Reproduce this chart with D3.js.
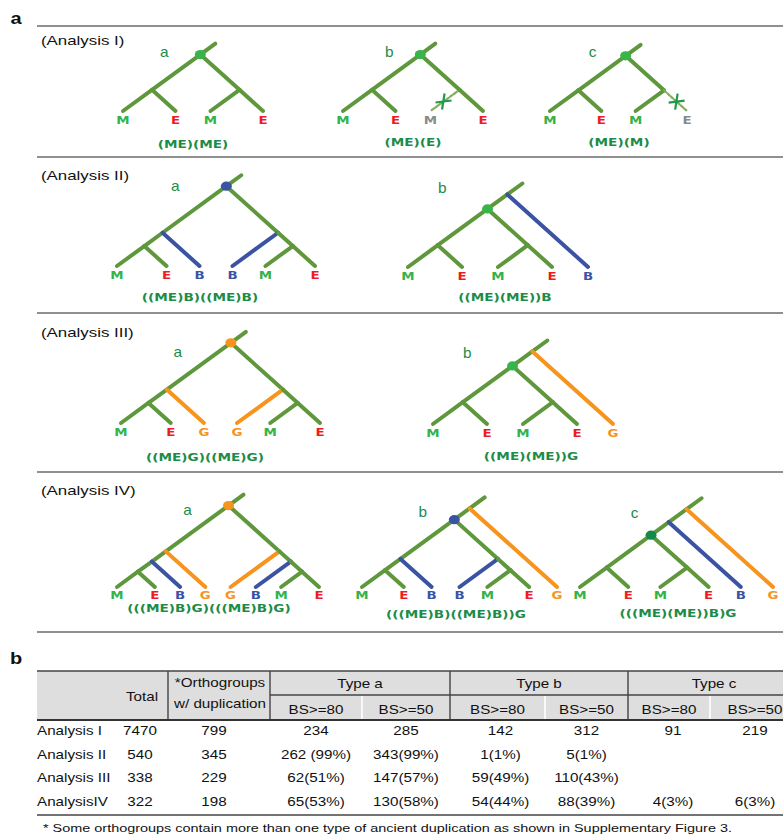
<!DOCTYPE html>
<html><head><meta charset="utf-8">
<script src="https://cdn.jsdelivr.net/npm/d3@7"></script>
<style>html,body{margin:0;padding:0;background:#fff;} svg{display:block;}</style>
</head><body>
<svg id="fig" width="783" height="834"></svg>
<script>
// ---------- data ----------
const panelTitles = ["(Analysis I)", "(Analysis II)", "(Analysis III)", "(Analysis IV)"];
const treeLetters = [["a", "b", "c"], ["a", "b"], ["a", "b"], ["a", "b", "c"]];
// gene-tree topologies: "!" = lost gene copy, "@X" = duplication node (X names the dot colour)
const topologies = [
  ["((M,E),(M,E))@M", "((M,E),(M!,E))@M", "((M,E),(M,E!))@M"],
  ["(((M,E),B),(B,(M,E)))@B", "(((M,E),(M,E))@M,B)"],
  ["(((M,E),G),(G,(M,E)))@G", "(((M,E),(M,E))@M,G)"],
  ["((((M,E),B),G),(G,(B,(M,E))))@G", "((((M,E),B),(B,(M,E)))@B,G)", "((((M,E),(M,E))@N,B),G)"]
];
const captions = [
  ["(ME)(ME)", "(ME)(E)", "(ME)(M)"],
  ["((ME)B)((ME)B)", "((ME)(ME))B"],
  ["((ME)G)((ME)G)", "((ME)(ME))G"],
  ["(((ME)B)G)(((ME)B)G)", "(((ME)B)((ME)B))G", "(((ME)(ME))B)G"]
];

// table
const rowLabels = ["Analysis I", "Analysis II", "Analysis III", "AnalysisIV"];
const totals = ["7470", "540", "338", "322"];
const orthoDup = ["799", "345", "229", "198"];
const typeA80 = ["234", "262 (99%)", "62(51%)", "65(53%)"];
const typeA50 = ["285", "343(99%)", "147(57%)", "130(58%)"];
const typeB80 = ["142", "1(1%)", "59(49%)", "54(44%)"];
const typeB50 = ["312", "5(1%)", "110(43%)", "88(39%)"];
const typeC80 = ["91", "", "", "4(3%)"];
const typeC50 = ["219", "", "", "6(3%)"];
const typeHeaders = ["Type a", "Type b", "Type c"];
const bsHeaders = ["BS>=80", "BS>=50"];
const footnote = "* Some orthogroups contain more than one type of ancient duplication as shown in Supplementary Figure 3.";

// ---------- styles ----------
const SANS = "'Liberation Sans', Arial, sans-serif";
const HAND = "'DejaVu Sans', sans-serif";
const branchGreen = "#5f983c";
const speciesColor = {M: "#33b34a", E: "#ed1c24", B: "#3b53a3", G: "#f7941d"};
const dotColor = {M: "#38b54a", B: "#3b53a3", G: "#f7941d", N: "#138a47"};
const labelGreen = "#1d8c48";
const lostGrey = "#8a8a8a";

// ---------- layout ----------
const panelLayout = [
  {titleY: 45, leafDy: 13, trees: [
    {x0: 123, x1: 263, leafY: 111, lab: [-36, -2], cap: [193, 148]},
    {x0: 343, x1: 483, leafY: 111, lab: [-31, -2], cap: [413, 146]},
    {x0: 550, x1: 687, leafY: 111, lab: [-33, -3], cap: [619, 146]}]},
  {titleY: 180, leafDy: 13, trees: [
    {x0: 117, x1: 315, leafY: 266, lab: [-51, 1], cap: [200, 301]},
    {x0: 408, x1: 588, leafY: 267, lab: [-65, -5], cap: [505, 301]}]},
  {titleY: 337, leafDy: 13, trees: [
    {x0: 121, x1: 320, leafY: 423, lab: [-53, 10], cap: [205, 461]},
    {x0: 433, x1: 613, leafY: 424, lab: [-65, 3], cap: [531, 460]}]},
  {titleY: 495, leafDy: 11.5, trees: [
    {x0: 117, x1: 319, leafY: 587, lab: [-41, 5], cap: [209, 612]},
    {x0: 362, x1: 557, leafY: 587, lab: [-47, 5], cap: [456, 618]},
    {x0: 580, x1: 773, leafY: 587, lab: [-52, 5], cap: [678, 617]}]}
];
const dividerYs = [26, 157, 313, 472, 632];

const SL = 0.73, SR = 0.9; // dy/dx of down-left and down-right branches

const svg = d3.select("#fig");

function stext(g, x, y, str, o) {
  return g.append("text")
    .attr("transform", `translate(${x},${y}) scale(${o.sx || 1},1)`)
    .attr("text-anchor", o.anchor || "middle")
    .style("font-family", o.family || SANS)
    .style("font-size", o.size + "px")
    .style("font-weight", o.weight || "normal")
    .attr("fill", o.fill || "#111")
    .text(str);
}

function parseTree(s) {
  let i = 0;
  function node() {
    let n;
    if (s[i] === "(") {
      i++;
      const children = [node()];
      while (s[i] === ",") { i++; children.push(node()); }
      i++;
      n = {children};
    } else {
      n = {name: s[i++]};
      if (s[i] === "!") { n.lost = true; i++; }
    }
    if (s[i] === "@") { n.dup = s[i + 1]; i += 2; }
    return n;
  }
  return node();
}

function layoutTree(root, cfg) {
  const leaves = root.leaves();
  const slots = [0];
  let acc = 0;
  for (let k = 1; k < leaves.length; k++) {
    acc += leaves[k - 1].parent === leaves[k].parent ? 1.5 : 1;
    slots.push(acc);
  }
  const xs = d3.scaleLinear().domain([0, acc]).range([cfg.x0, cfg.x1]);
  leaves.forEach((l, k) => { l.x = xs(slots[k]); l.y = cfg.leafY; });
  root.each(n => {
    if (!n.children) return;
    const lv = n.leaves();
    const xl = lv[0].x, xr = lv[lv.length - 1].x;
    const h = SL * SR * (xr - xl) / (SL + SR);
    n.x = xl + h / SL;
    n.y = cfg.leafY - h;
  });
}

// panel letters
stext(svg, 16, 24, "a", {size: 16, weight: "bold", sx: 1.25});
stext(svg, 16, 664, "b", {size: 16, weight: "bold", sx: 1.25});

// dividers
svg.selectAll("line.div").data(dividerYs).join("line")
  .attr("x1", 37).attr("x2", 783).attr("y1", d => d).attr("y2", d => d)
  .attr("stroke", "#6b6b6b").attr("stroke-width", 1.6);

panelLayout.forEach((pl, p) => {
  const g = svg.append("g");
  stext(g, 41, pl.titleY, panelTitles[p], {size: 13.5, sx: 1.25, anchor: "start"});

  pl.trees.forEach((cfg, t) => {
    const root = d3.hierarchy(parseTree(topologies[p][t]));
    layoutTree(root, cfg);
    const tg = g.append("g");

    // stem above the root
    const stemDx = 15;
    tg.append("line")
      .attr("x1", root.x).attr("y1", root.y)
      .attr("x2", root.x + stemDx).attr("y2", root.y - stemDx * SL)
      .attr("stroke", branchGreen).attr("stroke-width", 4).attr("stroke-linecap", "round");

    const links = root.descendants().filter(d => d.parent);
    tg.selectAll("line.br").data(links).join("line")
      .attr("x1", d => d.parent.x).attr("y1", d => d.parent.y)
      .attr("x2", d => d.x).attr("y2", d => d.y)
      .attr("stroke", d => d.data.lost ? "#86ad5c"
        : (!d.children && (d.data.name === "B" || d.data.name === "G")) ? speciesColor[d.data.name] : branchGreen)
      .attr("stroke-width", d => d.data.lost ? 2.2 : 4)
      .attr("stroke-dasharray", d => d.data.lost ? "3,1.5" : null)
      .attr("stroke-linecap", "round");

    // loss marks
    links.filter(d => d.data.lost).forEach(d => {
      const cx = d.parent.x + (d.x - d.parent.x) * 0.55;
      const cy = d.parent.y + (d.y - d.parent.y) * 0.55;
      tg.append("path")
        .attr("d", `M${cx - 8},${cy + 1}L${cx + 8},${cy - 1}M${cx - 1.5},${cy + 8}L${cx + 1},${cy - 8}`)
        .attr("stroke", "#1f9a4a").attr("stroke-width", 2.2).attr("fill", "none");
    });

    // duplication dot
    root.descendants().filter(d => d.data.dup).forEach(d => {
      tg.append("ellipse").attr("cx", d.x).attr("cy", d.y).attr("rx", 5.5).attr("ry", 4.6)
        .attr("fill", dotColor[d.data.dup]);
    });

    // leaf labels
    root.leaves().forEach(l => {
      stext(tg, l.x, l.y + pl.leafDy, l.data.name, {
        family: HAND, size: 11, weight: "bold", sx: 1.22,
        fill: l.data.lost ? lostGrey : speciesColor[l.data.name]
      });
    });

    stext(tg, root.x + cfg.lab[0], root.y + cfg.lab[1] + 4, treeLetters[p][t], {size: 14, sx: 1.1, fill: labelGreen});
    stext(tg, cfg.cap[0], cfg.cap[1], captions[p][t], {family: HAND, size: 11, weight: "bold", sx: 1.24, fill: labelGreen});
  });
});

// ---------- table ----------
const tb = svg.append("g");
const tTop = 671, tMid = 695, tHead = 720, tBottom = 815;
const typeBounds = [[270, 362, 450], [450, 545, 628], [628, 710, 800]];

tb.append("rect").attr("x", 37).attr("y", tTop).attr("width", 760).attr("height", tHead - tTop).attr("fill", "#dedede");

// separators inside the header
[168, 270, 450, 628].forEach(x => tb.append("line").attr("x1", x).attr("x2", x).attr("y1", tTop).attr("y2", tHead)
  .attr("stroke", "#444").attr("stroke-width", 1.4));
typeBounds.forEach(b => tb.append("line").attr("x1", b[1]).attr("x2", b[1]).attr("y1", tMid + 1).attr("y2", tHead)
  .attr("stroke", "#ffffff").attr("stroke-width", 1.6));
tb.append("line").attr("x1", 270).attr("x2", 800).attr("y1", tMid).attr("y2", tMid).attr("stroke", "#444").attr("stroke-width", 1.4);
tb.append("line").attr("x1", 37).attr("x2", 800).attr("y1", tTop).attr("y2", tTop).attr("stroke", "#444").attr("stroke-width", 1.6);
tb.append("line").attr("x1", 37).attr("x2", 800).attr("y1", tHead).attr("y2", tHead).attr("stroke", "#333").attr("stroke-width", 2.2);
tb.append("line").attr("x1", 37).attr("x2", 800).attr("y1", tBottom).attr("y2", tBottom).attr("stroke", "#444").attr("stroke-width", 1.6);

const TXT = {size: 13, sx: 1.17};
stext(tb, 142, 701, "Total", TXT);
stext(tb, 220, 687, "*Orthogroups", TXT);
stext(tb, 220, 708, "w/ duplication", TXT);
typeHeaders.forEach((h, k) => {
  const b = typeBounds[k];
  stext(tb, (b[0] + b[2]) / 2, 688, h, TXT);
  stext(tb, (b[0] + b[1]) / 2, 714, bsHeaders[0], TXT);
  stext(tb, (b[1] + b[2]) / 2, 714, bsHeaders[1], TXT);
});

const rowY = d3.scaleLinear().domain([0, rowLabels.length - 1]).range([735, 806]);
const columns = [
  {vals: totals, x: 140},
  {vals: orthoDup, x: 214},
  {vals: typeA80, x: (typeBounds[0][0] + typeBounds[0][1]) / 2},
  {vals: typeA50, x: (typeBounds[0][1] + typeBounds[0][2]) / 2},
  {vals: typeB80, x: (typeBounds[1][0] + typeBounds[1][1]) / 2 + 3},
  {vals: typeB50, x: (typeBounds[1][1] + typeBounds[1][2]) / 2},
  {vals: typeC80, x: (typeBounds[2][0] + typeBounds[2][1]) / 2 + 4},
  {vals: typeC50, x: (typeBounds[2][1] + typeBounds[2][2]) / 2}
];
rowLabels.forEach((r, i) => {
  stext(tb, 37, rowY(i), r, Object.assign({anchor: "start"}, TXT));
  columns.forEach(c => { if (c.vals[i]) stext(tb, c.x, rowY(i), c.vals[i], TXT); });
});

tb.append("text").attr("x", 43).attr("y", 832)
  .attr("textLength", 689).attr("lengthAdjust", "spacingAndGlyphs")
  .style("font-family", SANS).style("font-size", "10.5px").attr("fill", "#111")
  .text(footnote);
</script>
</body></html>
